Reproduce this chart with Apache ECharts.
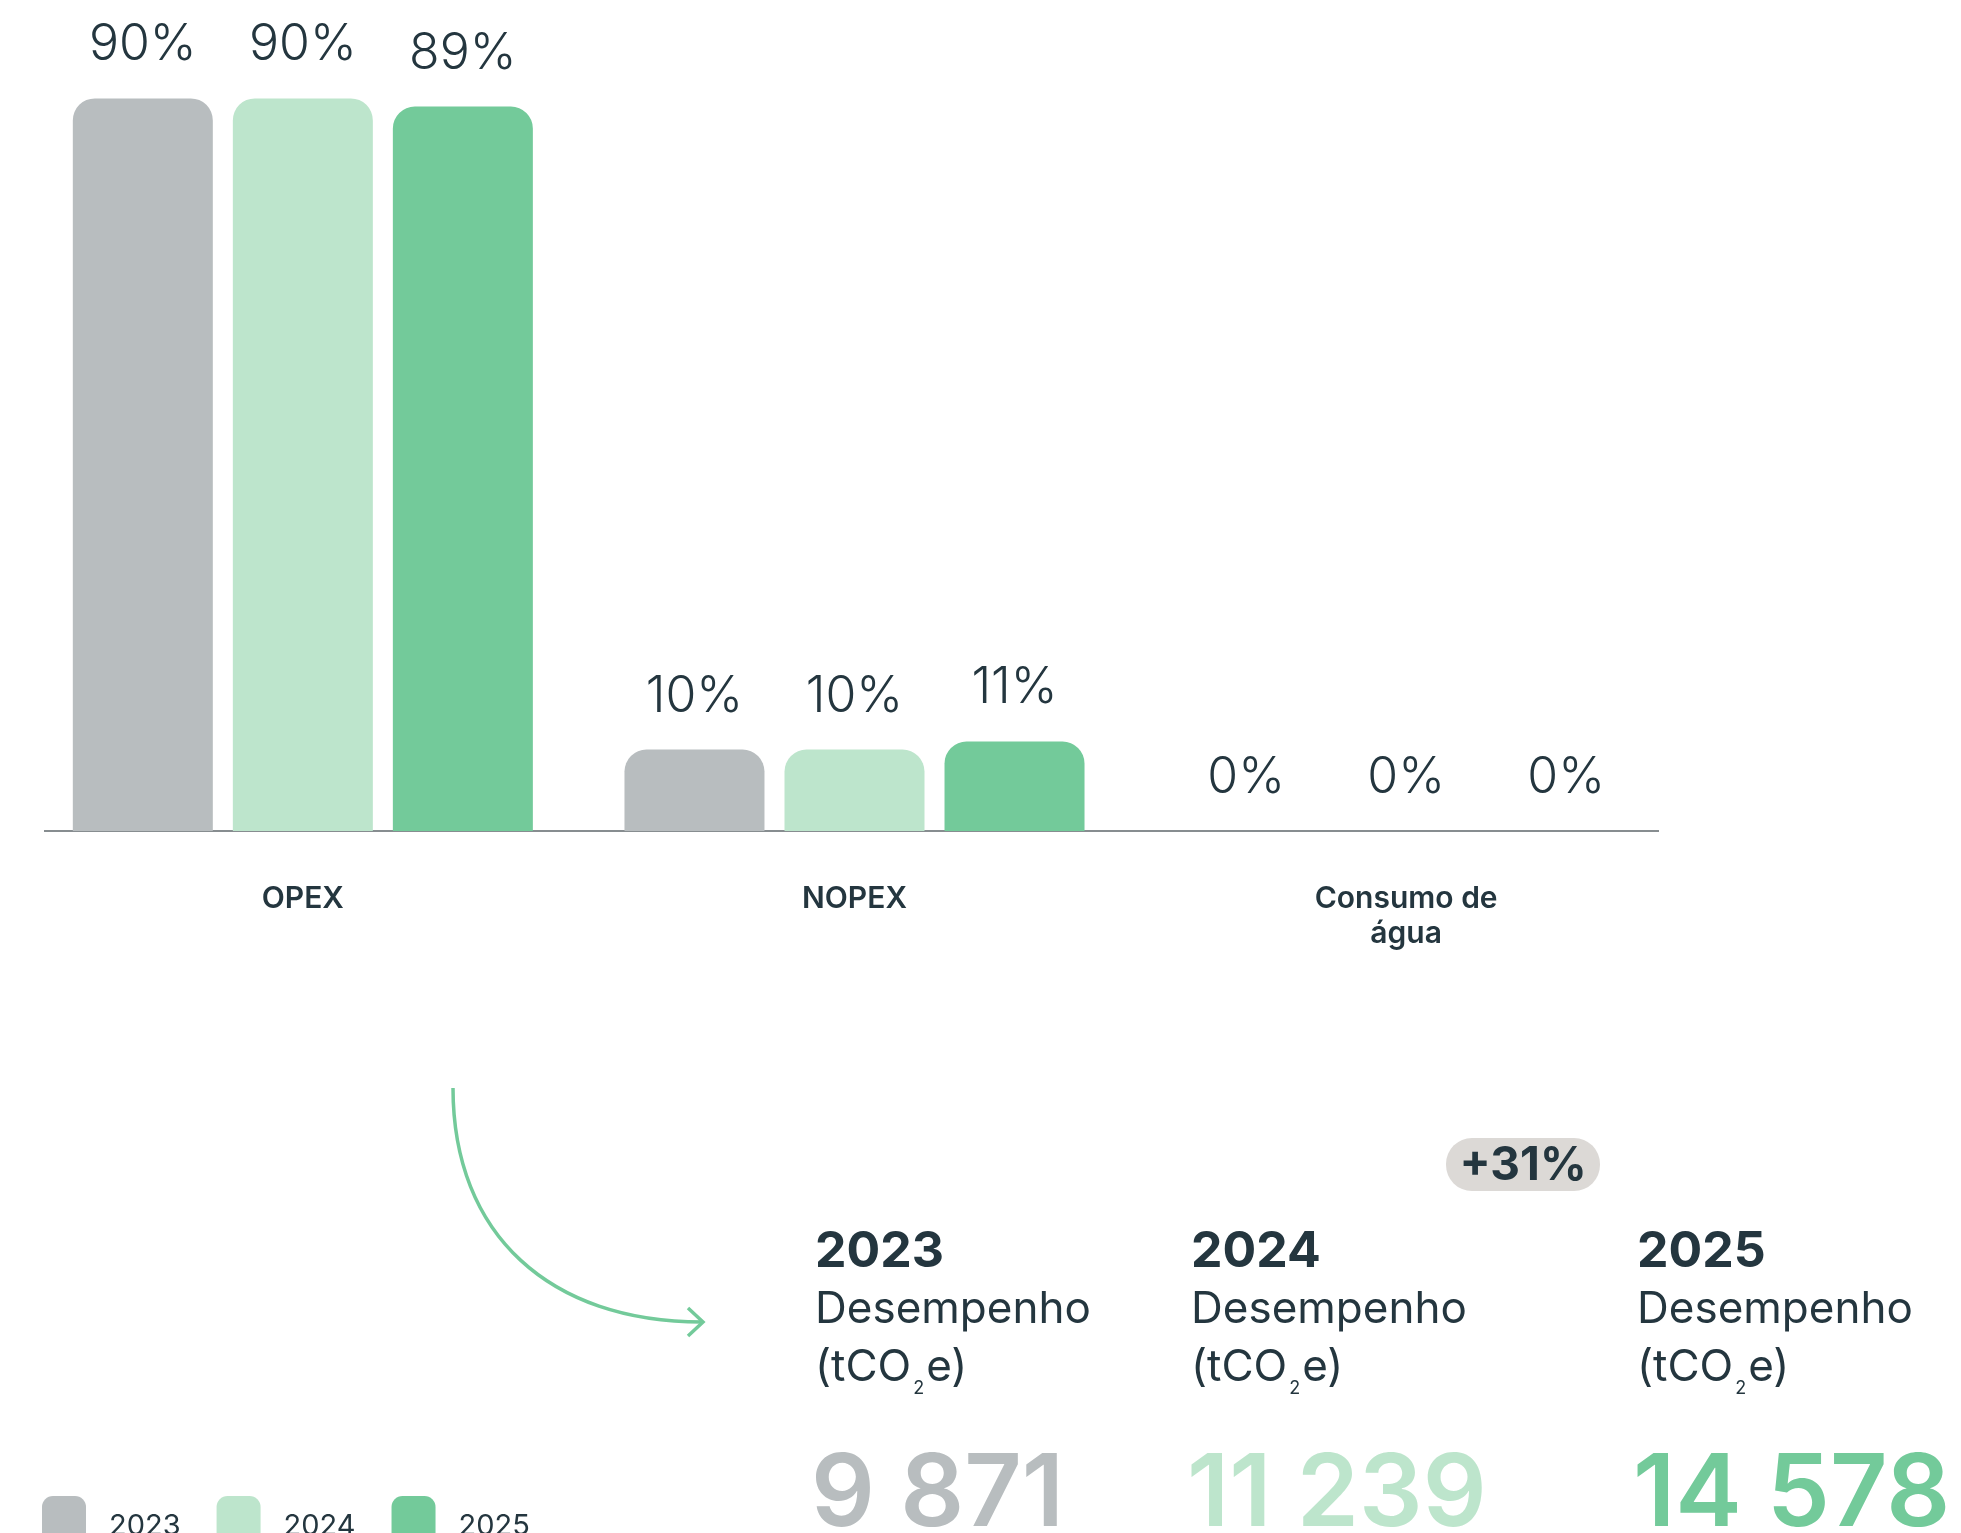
<!DOCTYPE html>
<html lang="pt">
<head>
    <meta charset="utf-8" />
    <script src="https://cdn.jsdelivr.net/npm/echarts@6/dist/echarts.min.js"></script>
    <title>opex_nopex</title>
    <style>
        html, body { margin: 0; padding: 0; background: #fff; }
    </style>
</head>
<body>
<div id="main" style="width:1961px; height:1533px;"></div>
<script type="text/javascript">
    // dados
    const categories = ['OPEX', 'NOPEX', 'Consumo de\nágua'];
    const years = ['2023', '2024', '2025'];
    const share2023 = [90, 10, 0];
    const share2024 = [90, 10, 0];
    const share2025 = [89, 11, 0];
    const emissions = [9871, 11239, 14578];
    const variation = '+31%';

    const colors = ['#b8bdbf', '#bde5cc', '#73ca9a'];
    const textColor = '#24363f';
    const font = 'Inter, "Noto Sans", sans-serif';

    let myChart = echarts.init(document.getElementById('main'));

    function fmt(n) {
        return String(n).replace(/\B(?=(\d{3})+(?!\d))/g, ' ');
    }

    function barSeries(name, data, i) {
        return {
            name: name,
            type: 'bar',
            data: data,
            barWidth: 140,
            barGap: '14.3%',
            itemStyle: { color: colors[i], borderRadius: [22, 22, 0, 0] },
            label: {
                show: true,
                position: 'top',
                distance: 28,
                formatter: '{c}%',
                color: textColor,
                fontFamily: font,
                fontWeight: 300,
                fontSize: 50
            }
        };
    }

    // bloco de baixo (desempenho)
    const blockX = [815, 1191, 1637];
    let graphics = [
        {
            type: 'line',
            shape: { x1: 44, y1: 831, x2: 1659, y2: 831 },
            style: { stroke: '#5f676b', lineWidth: 1.5 }
        },
        {
            type: 'bezierCurve',
            shape: { x1: 453, y1: 1088, cpx1: 453, cpy1: 1235, cpx2: 550, cpy2: 1322, x2: 702, y2: 1322 },
            style: { stroke: '#73ca9a', lineWidth: 3.5, fill: null }
        },
        {
            type: 'polyline',
            shape: { points: [[688, 1308], [703, 1322], [688, 1336]] },
            style: { stroke: '#73ca9a', lineWidth: 3.5, fill: null }
        },
        {
            type: 'rect',
            shape: { x: 1446, y: 1138, width: 154, height: 53, r: 26 },
            style: { fill: '#dcd9d6' }
        },
        {
            type: 'text',
            x: 1523, y: 1166,
            style: {
                text: variation, fill: textColor, font: '700 46px ' + font,
                align: 'center', verticalAlign: 'middle'
            }
        }
    ];
    years.forEach(function (y, i) {
        graphics.push({
            type: 'text', x: blockX[i], y: 1252,
            style: { text: y, fill: textColor, font: '700 50px ' + font, verticalAlign: 'middle' }
        });
        graphics.push({
            type: 'text', x: blockX[i], y: 1310,
            style: { text: 'Desempenho', fill: textColor, font: '400 44px ' + font, verticalAlign: 'middle' }
        });
        graphics.push({
            type: 'text', x: blockX[i], y: 1368,
            style: {
                text: '{n|(tCO}{s|2}{n|e)}',
                verticalAlign: 'middle',
                rich: {
                    n: { fill: textColor, fontFamily: font, fontSize: 44, lineHeight: 60, verticalAlign: 'middle' },
                    s: { fill: textColor, fontFamily: font, fontSize: 18, lineHeight: 60, verticalAlign: 'bottom', padding: [0, 2, 0, 2] }
                }
            }
        });
        graphics.push({
            type: 'text', x: blockX[i] - 4, y: 1496,
            style: { text: fmt(emissions[i]), fill: colors[i], font: '600 100px ' + font, verticalAlign: 'middle' }
        });
    });

    option = {
        animation: false,
        backgroundColor: '#ffffff',
        grid: { left: 27, width: 1655, top: 17, bottom: 702, containLabel: false },
        legend: {
            left: 37,
            top: 1491,
            itemWidth: 44,
            itemHeight: 60,
            itemGap: 36,
            selectedMode: false,
            icon: 'roundRect',
            data: years,
            textStyle: {
                color: textColor,
                fontFamily: font,
                fontSize: 29,
                padding: [0, 0, 0, 18]
            }
        },
        xAxis: {
            type: 'category',
            data: categories,
            axisLine: { show: false },
            axisTick: { show: false },
            axisLabel: {
                margin: 50,
                color: textColor,
                fontFamily: font,
                fontWeight: 600,
                fontSize: 30,
                lineHeight: 35
            }
        },
        yAxis: {
            type: 'value',
            min: 0,
            max: 100,
            show: false,
            splitLine: { show: false }
        },
        graphic: graphics,
        series: [
            barSeries(years[0], share2023, 0),
            barSeries(years[1], share2024, 1),
            barSeries(years[2], share2025, 2)
        ]
    };
    myChart.setOption(option);
</script>
</body>
</html>
